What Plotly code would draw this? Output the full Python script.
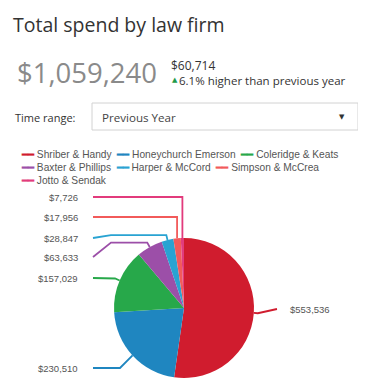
import numpy as np
import plotly.graph_objects as go

# ---------------- data ----------------
firms = ["Shriber & Handy", "Honeychurch Emerson", "Coleridge & Keats",
         "Baxter & Phillips", "Harper & McCord", "Simpson & McCrea",
         "Jotto & Sendak"]
spend = [553536, 230510, 157029, 63633, 28847, 17956, 7726]
colors = ["#d01c2e", "#1f86c0", "#27a84a", "#9c4fa8", "#29a3d2",
          "#f25a5a", "#e23b7c"]
total_label = "$1,059,240"
change_label = "$60,714"
change_text = "6.1% higher than previous year"
time_range = "Previous Year"

# ---------------- layout helpers ----------------
OFF = 8                      # page body margin
W, H = 366 - OFF, 391 - OFF  # figure size
CX, CY, R = 184, 308, 70     # pie centre / radius in screen pixels
label_y = [309, 368, 278, 257, 238, 217, 197]
route = ["right", "knee_pie", "direct", "knee_label", "knee_label",
         "vertical", "vertical"]
LEFT_END = 93
LABEL_X = 80

vals = np.array(spend, dtype=float)
frac_mid = (np.cumsum(vals) - vals / 2) / vals.sum()
theta = 2 * np.pi * frac_mid


def pt(i, r):
    return CX + r * np.sin(theta[i]), CY - r * np.cos(theta[i])


fig = go.Figure()

fig.add_trace(go.Pie(
    labels=firms, values=spend, sort=False, direction="clockwise",
    rotation=0, textinfo="none", showlegend=False,
    marker=dict(colors=colors, line=dict(width=0)),
    domain=dict(x=[(CX - R - OFF) / W, (CX + R - OFF) / W],
                y=[1 - (CY + R - OFF) / H, 1 - (CY - R - OFF) / H]),
    hovertemplate="%{label}: $%{value:,}<extra></extra>",
))

lab_font = dict(family="Liberation Sans", size=9.5, color="#555")
annotations = []
for i, v in enumerate(spend):
    x0, y0 = pt(i, R)
    ly = label_y[i]
    if route[i] == "right":
        x1, y1 = pt(i, R + 4)
        xs, ys = [x0, x1, 277], [y0, y1, ly]
    elif route[i] == "knee_pie":
        x1, y1 = pt(i, R + 6)
        xs, ys = [x0, x1, 120, LEFT_END], [y0, y1, ly, ly]
    elif route[i] == "direct":
        x1, y1 = pt(i, R + 5)
        xs, ys = [x0, x1, LEFT_END], [y0, y1, ly]
    elif route[i] == "knee_label":
        x1, y1 = pt(i, R + 5)
        xs, ys = [x0, x1, 111, LEFT_END], [y0, y1, y1, ly]
    else:  # vertical
        xs, ys = [x0, x0, LEFT_END], [y0, ly, ly]
    fig.add_trace(go.Scatter(x=xs, y=ys, mode="lines", showlegend=False,
                             hoverinfo="skip",
                             line=dict(color=colors[i], width=1.8)))
    if route[i] == "right":
        annotations.append(dict(x=288, y=ly, text=f"${v:,}", xanchor="left",
                                yanchor="middle", showarrow=False,
                                font=lab_font))
    else:
        annotations.append(dict(x=LABEL_X, y=ly, text=f"${v:,}",
                                xanchor="right", yanchor="middle",
                                showarrow=False, font=lab_font))

# legend rows (flowing, like the reference)
leg_font = dict(family="Liberation Sans", size=10.2, color="#555")
rows = [[0, 1, 2], [3, 4, 5], [6]]
row_y = [154, 167, 180]
for r_idx, row in enumerate(rows):
    parts = [f"<span style='color:{colors[i]}'><b>━━</b></span>"
             f" {firms[i]}" for i in row]
    annotations.append(dict(x=19, y=row_y[r_idx],
                            text="\u00a0\u00a0".join(parts),
                            xanchor="left", yanchor="middle", showarrow=False,
                            font=leg_font))

hdr = "Open Sans"
annotations += [
    dict(x=11, y=24, text="Total spend by law firm", xanchor="left",
         yanchor="middle", showarrow=False,
         font=dict(family=hdr, size=19.5, color="#333")),
    dict(x=15, y=72, text=total_label, xanchor="left", yanchor="middle",
         showarrow=False, font=dict(family=hdr, size=27.5, color="#8a8a8a")),
    dict(x=169, y=65, text=change_label, xanchor="left", yanchor="middle",
         showarrow=False, font=dict(family=hdr, size=12, color="#333")),
    dict(x=170, y=80, text="▲", xanchor="left", yanchor="middle",
         showarrow=False, font=dict(family="DejaVu Sans", size=7,
                                    color="#1e9a4a")),
    dict(x=177, y=80, text=change_text, xanchor="left", yanchor="middle",
         showarrow=False, font=dict(family=hdr, size=11.5, color="#333")),
    dict(x=13, y=117, text="Time range:", xanchor="left", yanchor="middle",
         showarrow=False, font=dict(family=hdr, size=11, color="#333")),
    dict(x=100, y=117, text=time_range, xanchor="left", yanchor="middle",
         showarrow=False, font=dict(family=hdr, size=11.6, color="#444")),
    dict(x=342, y=117, text="▼", xanchor="center", yanchor="middle",
         showarrow=False, font=dict(family="DejaVu Sans", size=7,
                                    color="#333")),
]

fig.update_layout(
    width=W, height=H, margin=dict(l=0, r=0, t=0, b=0),
    paper_bgcolor="white", plot_bgcolor="white",
    xaxis=dict(range=[OFF, OFF + W], visible=False, fixedrange=True),
    yaxis=dict(range=[OFF + H, OFF], visible=False, fixedrange=True),
    annotations=annotations,
    shapes=[dict(type="rect", xref="x", yref="y", x0=92, x1=358, y0=103,
                 y1=130, line=dict(color="#d2d2d2", width=1),
                 fillcolor="white", layer="below")],
    showlegend=False,
)

fig.write_html("out.html")
